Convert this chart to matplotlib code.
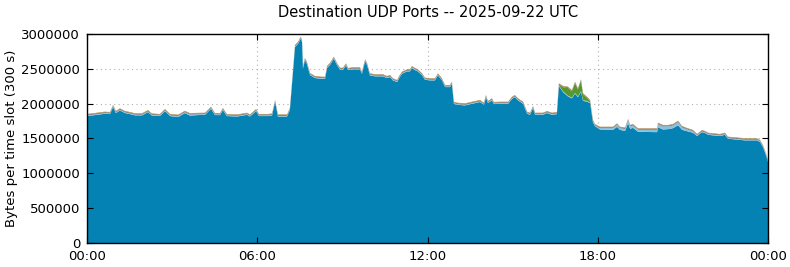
import numpy as np
import matplotlib
matplotlib.use("Agg")
import matplotlib.pyplot as plt

# time of each sample, hours since 00:00 UTC
hours = [
    0.00, 0.28, 0.63, 0.81, 0.92, 1.02, 1.16, 1.34, 1.52, 1.69,
    1.94, 2.15, 2.29, 2.57, 2.75, 2.93, 3.21, 3.45, 3.63, 3.91,
    4.16, 4.37, 4.51, 4.69, 4.79, 4.93, 5.29, 5.64, 5.74, 5.96,
    6.06, 6.38, 6.52, 6.63, 6.73, 7.05, 7.15, 7.26, 7.33, 7.44,
    7.53, 7.58, 7.61, 7.68, 7.75, 7.86, 8.04, 8.28, 8.39, 8.46,
    8.56, 8.70, 8.81, 8.92, 9.02, 9.13, 9.20, 9.37, 9.62, 9.69,
    9.80, 9.87, 9.97, 10.15, 10.43, 10.57, 10.68, 10.78, 10.93, 11.00,
    11.10, 11.28, 11.38, 11.45, 11.56, 11.66, 11.81, 11.91, 12.09, 12.26,
    12.37, 12.51, 12.62, 12.79, 12.86, 12.93, 13.04, 13.32, 13.57, 13.85,
    13.99, 14.06, 14.13, 14.27, 14.34, 14.56, 14.84, 14.98, 15.08, 15.19,
    15.37, 15.51, 15.61, 15.72, 15.79, 16.07, 16.21, 16.39, 16.56, 16.63,
    16.78, 16.95, 17.09, 17.20, 17.30, 17.41, 17.48, 17.62, 17.73, 17.83,
    17.90, 18.08, 18.54, 18.68, 18.78, 18.96, 19.07, 19.14, 19.24, 19.42,
    20.09, 20.12, 20.30, 20.48, 20.65, 20.83, 20.97, 21.18, 21.36, 21.50,
    21.67, 21.78, 21.89, 22.06, 22.31, 22.48, 22.59, 22.84, 23.19, 23.61,
    23.72, 23.82, 23.93, 24.00,
]

# bytes per slot, in thousands, one list per port group (bottom to top)
port_main = [
    1822, 1836, 1855, 1850, 1951, 1865, 1903, 1865, 1850, 1832,
    1832, 1879, 1829, 1822, 1893, 1822, 1807, 1865, 1829, 1836,
    1840, 1926, 1836, 1836, 1908, 1822, 1815, 1840, 1815, 1893,
    1822, 1822, 1829, 2023, 1815, 1815, 1908, 2453, 2812, 2859,
    2931, 2884, 2501, 2625, 2572, 2410, 2367, 2357, 2357, 2511,
    2554, 2644, 2554, 2486, 2486, 2549, 2482, 2492, 2492, 2429,
    2607, 2554, 2406, 2392, 2392, 2367, 2382, 2334, 2310, 2367,
    2429, 2463, 2463, 2511, 2482, 2463, 2406, 2343, 2334, 2334,
    2406, 2334, 2238, 2238, 2285, 1998, 1984, 1975, 1998, 2023,
    1984, 2094, 2008, 2047, 1994, 1998, 1998, 2070, 2094, 2047,
    1998, 1855, 1840, 1936, 1840, 1840, 1865, 1840, 1850, 2252,
    2164, 2104, 2076, 2145, 2091, 2170, 2039, 2030, 2008, 1731,
    1678, 1629, 1624, 1668, 1624, 1608, 1720, 1639, 1653, 1596,
    1591, 1662, 1629, 1634, 1648, 1690, 1624, 1601, 1582, 1535,
    1592, 1578, 1553, 1545, 1535, 1553, 1496, 1487, 1473, 1473,
    1448, 1377, 1258, 1161,
]
port_light = [
    10, 10, 10, 10, 10, 10, 10, 10, 10, 10,
    10, 10, 10, 10, 10, 10, 15, 12, 15, 12,
    10, 10, 10, 10, 10, 10, 10, 10, 10, 10,
    10, 10, 10, 10, 10, 10, 10, 10, 10, 10,
    10, 10, 10, 10, 10, 10, 10, 10, 10, 10,
    10, 10, 10, 10, 10, 10, 10, 10, 10, 10,
    10, 10, 10, 10, 10, 10, 10, 10, 10, 10,
    10, 10, 10, 10, 10, 10, 10, 10, 10, 10,
    10, 10, 10, 10, 10, 10, 10, 10, 10, 10,
    10, 10, 10, 10, 10, 10, 10, 10, 10, 10,
    10, 10, 10, 10, 10, 10, 10, 10, 10, 10,
    10, 10, 10, 10, 10, 10, 10, 10, 10, 10,
    10, 20, 25, 30, 25, 30, 40, 35, 35, 30,
    35, 45, 45, 40, 40, 45, 35, 25, 20, 10,
    10, 10, 10, 10, 10, 10, 10, 10, 10, 10,
    10, 10, 10, 10,
]
port_green = [
    0, 0, 0, 0, 0, 0, 0, 0, 0, 0,
    0, 0, 0, 0, 0, 0, 0, 0, 0, 0,
    0, 0, 0, 0, 0, 0, 0, 0, 0, 0,
    0, 0, 0, 0, 0, 0, 0, 0, 0, 0,
    0, 0, 0, 0, 0, 0, 0, 0, 0, 0,
    0, 0, 0, 0, 0, 0, 0, 0, 0, 0,
    0, 0, 0, 0, 0, 0, 0, 0, 0, 0,
    0, 0, 0, 0, 0, 0, 0, 0, 0, 0,
    0, 0, 0, 0, 0, 0, 0, 0, 0, 0,
    0, 0, 0, 0, 0, 0, 0, 0, 0, 0,
    0, 0, 0, 0, 0, 0, 0, 0, 0, 10,
    60, 110, 90, 140, 100, 150, 80, 40, 15, 5,
    0, 0, 0, 0, 0, 0, 0, 0, 0, 0,
    0, 0, 0, 0, 0, 0, 0, 0, 0, 0,
    0, 0, 0, 0, 0, 0, 0, 0, 0, 0,
    0, 0, 0, 0,
]
port_gray = [
    12, 12, 12, 12, 12, 12, 12, 12, 12, 12,
    12, 12, 12, 12, 12, 12, 12, 12, 12, 12,
    12, 12, 12, 12, 12, 12, 12, 12, 12, 12,
    12, 12, 12, 12, 12, 12, 12, 12, 12, 12,
    12, 12, 12, 12, 12, 12, 12, 12, 12, 12,
    12, 12, 12, 12, 12, 12, 12, 12, 12, 12,
    12, 12, 12, 12, 12, 12, 12, 12, 12, 12,
    12, 12, 12, 12, 12, 12, 12, 12, 12, 12,
    12, 12, 12, 12, 12, 12, 12, 12, 12, 12,
    12, 12, 12, 12, 12, 12, 12, 12, 12, 12,
    12, 12, 12, 12, 12, 12, 12, 12, 12, 12,
    12, 12, 12, 12, 12, 12, 12, 12, 12, 12,
    12, 12, 12, 12, 12, 12, 12, 12, 12, 12,
    12, 12, 12, 12, 12, 12, 12, 12, 12, 12,
    12, 12, 12, 12, 12, 12, 12, 12, 12, 12,
    12, 12, 12, 12,
]
port_orange = [
    8, 8, 8, 8, 8, 8, 8, 8, 8, 8,
    8, 8, 8, 8, 8, 8, 8, 8, 8, 8,
    8, 8, 8, 8, 8, 8, 8, 8, 8, 8,
    8, 8, 8, 8, 8, 8, 8, 8, 8, 8,
    8, 8, 8, 8, 8, 8, 8, 8, 8, 8,
    8, 8, 8, 8, 8, 8, 8, 8, 8, 8,
    8, 8, 8, 8, 8, 8, 8, 8, 8, 8,
    8, 8, 8, 8, 8, 8, 8, 8, 8, 8,
    8, 8, 8, 8, 8, 8, 8, 8, 8, 8,
    8, 8, 8, 8, 8, 8, 8, 8, 8, 8,
    8, 8, 8, 8, 8, 8, 8, 8, 8, 8,
    8, 8, 8, 8, 8, 8, 8, 8, 8, 8,
    8, 8, 8, 8, 8, 8, 8, 8, 8, 8,
    8, 8, 8, 8, 8, 8, 8, 8, 8, 8,
    8, 8, 8, 8, 8, 8, 8, 8, 8, 8,
    8, 8, 8, 8,
]

layer_colors = ["#0482b4", "#88c1df", "#56982a", "#707070", "#a87a36"]

x_ticks = [0, 6, 12, 18, 24]
x_labels = ["00:00", "06:00", "12:00", "18:00", "00:00"]
y_ticks = [0, 500000, 1000000, 1500000, 2000000, 2500000, 3000000]

title = "Destination UDP Ports -- 2025-09-22 UTC"
ylabel = "Bytes per time slot (300 s)"

fig = plt.figure(figsize=(7.9, 2.67), dpi=100)
ax = fig.add_axes([0.1101, 0.0899, 0.8621, 0.7828])

layers = [np.array(l) * 1000 for l in
          (port_main, port_light, port_green, port_gray, port_orange)]
ax.stackplot(hours, *layers, colors=layer_colors, linewidth=0, zorder=1)

### dotted grid behind the areas, ticks in front
for xv in x_ticks[1:-1]:
    ax.axvline(xv, color="#b0b0b0", linestyle=(0, (1, 3)), linewidth=0.8, zorder=0.5)
for yv in y_ticks[1:-1]:
    ax.axhline(yv, color="#b0b0b0", linestyle=(0, (1, 3)), linewidth=0.8, zorder=0.5)

ax.set_xlim(0, 24)
ax.set_ylim(0, 3000000)
ax.set_xticks(x_ticks)
ax.set_xticklabels(x_labels)
ax.set_yticks(y_ticks)
ax.set_yticklabels([str(v) for v in y_ticks])
ax.tick_params(direction="in", length=4.5, width=0.8, labelsize=9.5,
               top=True, right=True, pad=5)
for sp in ax.spines.values():
    sp.set_linewidth(1.0)

ax.set_ylabel(ylabel, fontsize=9.5, labelpad=2)
fig.suptitle(title, fontsize=10.5, x=0.542, y=0.98)

fig.savefig("out.png", dpi=100)
